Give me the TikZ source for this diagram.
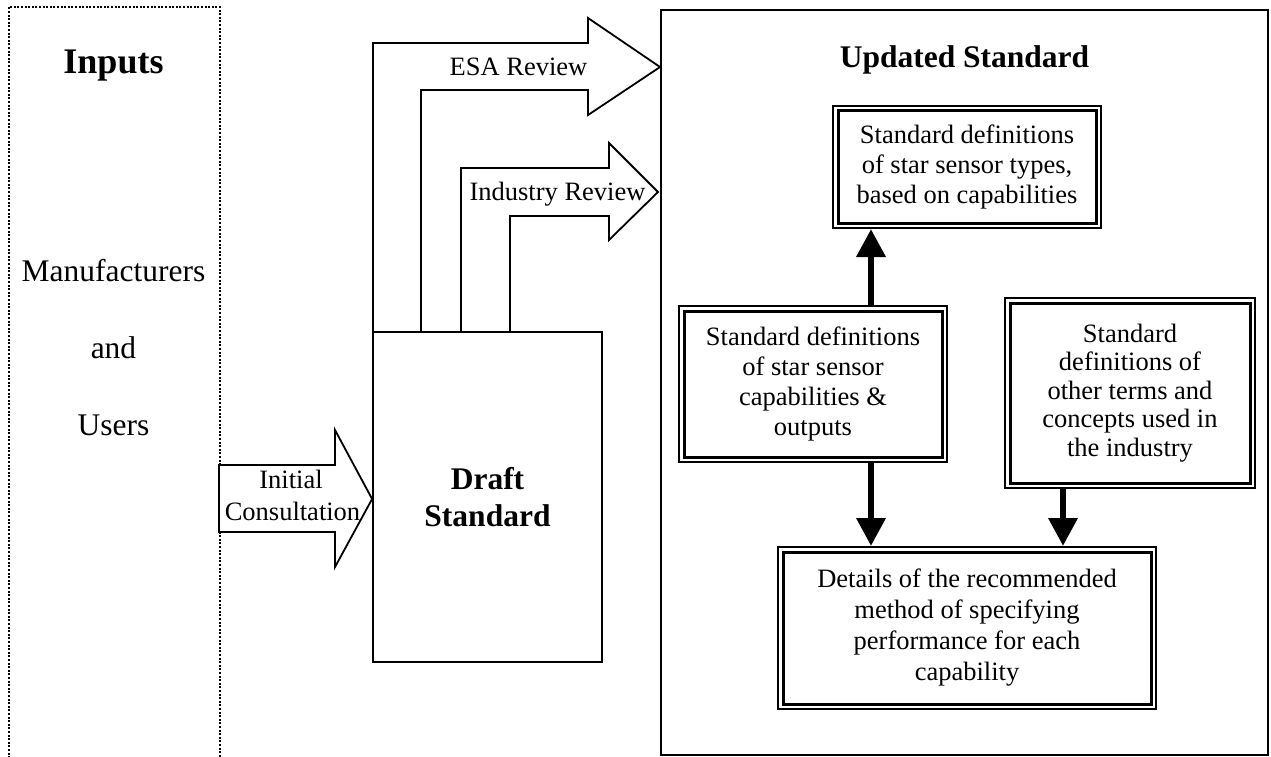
\documentclass[tikz,border=0pt]{standalone}
\usepackage{fontspec}
\setmainfont{Liberation Serif}
\usetikzlibrary{arrows.meta}
\begin{document}
\begin{tikzpicture}[x=1pt,y=-1pt,
  line width=1.8pt,
  txt/.style={font=\fontsize{26.5}{30}\selectfont, inner sep=0pt},
  lefttxt/.style={font=\fontsize{31.5}{37}\selectfont, inner sep=0pt, anchor=base},
  boldtxt/.style={font=\fontsize{31.5}{37}\selectfont\bfseries, align=center, inner sep=0pt},
  plainbox/.style={draw, line width=1.8pt, inner sep=0pt},
  dbox/.style={draw, line width=3pt, outer sep=6pt, inner sep=0pt, align=center, font=\fontsize{26.5}{30}\selectfont},
  hollow/.style={draw, fill=white, line width=1.8pt, line join=miter},
  heavyarrow/.style={line width=6.5pt, -{Triangle[length=28pt,width=28pt]}}
]
\useasboundingbox (0,0) rectangle (1271,757);

% Inputs (dotted, open at the bottom of the page)
\node[draw, line width=2pt, dash pattern=on 2pt off 1.6pt, minimum width=211pt, minimum height=780pt, inner sep=0pt] (inp) at (114.5,397) {};
\node[font=\fontsize{36}{40}\selectfont\bfseries, inner sep=0pt, anchor=base] (inpt) at (113.5,74) {Inputs};
\node[lefttxt] (manu) at (113.5,281) {Manufacturers};
\node[lefttxt] (and) at (113.5,358) {and};
\node[lefttxt] (usr) at (113.5,435) {Users};

% Updated standard frame
\node[plainbox, minimum width=607pt, minimum height=745pt] (upd) at (964.5,382.5) {};
\node[boldtxt, anchor=base] (updt) at (964.5,68) {Updated Standard};

% Review arrows (from the draft to the updated standard)
\draw[hollow] (373,332) -- (373,43) -- (588,43) -- (588,18) -- (660,67) -- (588,115) -- (588,90) -- (421,90) -- (421,332);
\node[txt, anchor=base] (esa) at (518.5,76) {ESA Review};
\draw[hollow] (461,332) -- (461,168) -- (609,168) -- (609,143) -- (658,192) -- (609,240) -- (609,216) -- (510,216) -- (510,332);
\node[txt, anchor=base] (ind) at (557.5,200) {Industry Review};

% Draft standard
\node[plainbox, minimum width=229pt, minimum height=330pt, boldtxt] (draft) at (487.5,497) {Draft\\Standard};

% Initial consultation arrow
\draw[hollow] (219,465) -- (335,465) -- (335,430) -- (draft.west |- 0,499) -- (335,567) -- (335,532) -- (219,532) -- cycle;
\node[txt, anchor=base] (ini) at (291,488) {Initial};
\node[txt, anchor=base] (cons) at (292.5,520) {Consultation};

% Double-framed boxes
\node[dbox, minimum width=258pt, minimum height=112pt] (t) at (967,167)
  {Standard definitions\\of star sensor types,\\based on capabilities};
\node[dbox, minimum width=258pt, minimum height=146pt] (c) at (813,384)
  {Standard definitions\\of star sensor\\capabilities \&\\outputs};
\node[dbox, minimum width=240pt, minimum height=180pt, font=\fontsize{26.5}{28.5}\selectfont] (o) at (1130,393)
  {Standard\\definitions of\\other terms and\\concepts used in\\the industry};
\node[dbox, minimum width=368pt, minimum height=152pt, font=\fontsize{26.5}{31}\selectfont] (d) at (967,628)
  {Details of the recommended\\method of specifying\\performance for each\\capability};
\foreach \n in {t,c,o,d}
  \draw[line width=2pt] ([xshift=1pt,yshift=-1pt]\n.north west) rectangle ([xshift=-1pt,yshift=1pt]\n.south east);

% Connectors
\coordinate (a1) at (871,0);
\coordinate (a2) at (1063,0);
\draw[heavyarrow] (c.north -| a1) -- (t.south -| a1);
\draw[heavyarrow] (c.south -| a1) -- (d.north -| a1);
\draw[heavyarrow] (o.south -| a2) -- (d.north -| a2);
\end{tikzpicture}
\end{document}
